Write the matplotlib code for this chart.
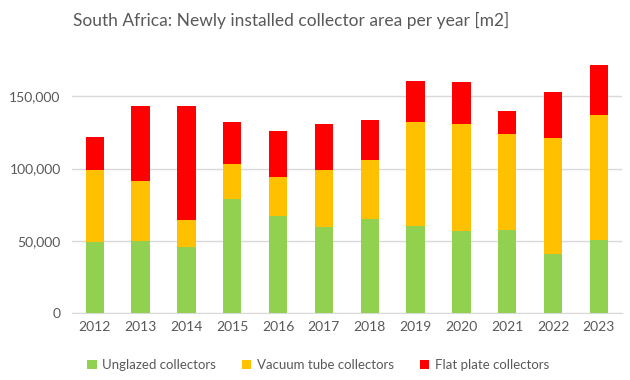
import matplotlib
matplotlib.use("Agg")
import matplotlib.pyplot as plt
import numpy as np

years = ["2012", "2013", "2014", "2015", "2016", "2017", "2018", "2019", "2020", "2021", "2022", "2023"]
unglazed = [49200, 49800, 45700, 78900, 67100, 59500, 65100, 60200, 56800, 57500, 40800, 50500]
vacuum = [49800, 41600, 18700, 24200, 27000, 39500, 40800, 72000, 74000, 66400, 80300, 86500]
flat = [22800, 51900, 78900, 29100, 31800, 31800, 27700, 28400, 29100, 15900, 31900, 34600]

series_names = ["Unglazed collectors", "Vacuum tube collectors", "Flat plate collectors"]
colors = ["#92D050", "#FFC000", "#FF0000"]

plt.rcParams['font.family'] = ['Lato', 'DejaVu Sans']
fig = plt.figure(figsize=(6.3, 3.8), dpi=100)
ax = fig.add_axes([0.114, 0.176, 0.873, 0.685])

x = np.arange(len(years))
w = 0.4
b = np.zeros(len(years))
handles = []
for vals, c, n in zip([unglazed, vacuum, flat], colors, series_names):
    h = ax.bar(x, vals, w, bottom=b, color=c, label=n, zorder=3)
    handles.append(h)
    b = b + np.array(vals)

ax.set_xlim(-0.5, len(years) - 0.5)
ax.set_ylim(0, 180000)
ax.set_yticks([0, 50000, 100000, 150000])
ax.set_yticklabels(["0", "50,000", "100,000", "150,000"])
ax.set_xticks(x)
ax.set_xticklabels(years)
ax.grid(axis='y', color='#D9D9D9', linewidth=1, zorder=0)
for s in ['top', 'right', 'left']:
    ax.spines[s].set_visible(False)
ax.spines['bottom'].set_color('#D9D9D9')
ax.tick_params(axis='both', length=0, labelsize=10, colors='#595959')
ax.tick_params(axis='y', pad=8)
ax.tick_params(axis='x', pad=6)

fig.text(0.116, 0.945, "South Africa: Newly installed collector area per year [m2]",
         fontsize=12.5, color='#595959', ha='left', va='center')

fig.legend(handles=handles, labels=series_names, loc='center', bbox_to_anchor=(0.505, 0.04),
           ncol=3, frameon=False, fontsize=9.5, handlelength=0.7, handleheight=0.7,
           handletextpad=0.4, columnspacing=2.0, labelcolor='#595959')

fig.savefig("out.png", dpi=100)
